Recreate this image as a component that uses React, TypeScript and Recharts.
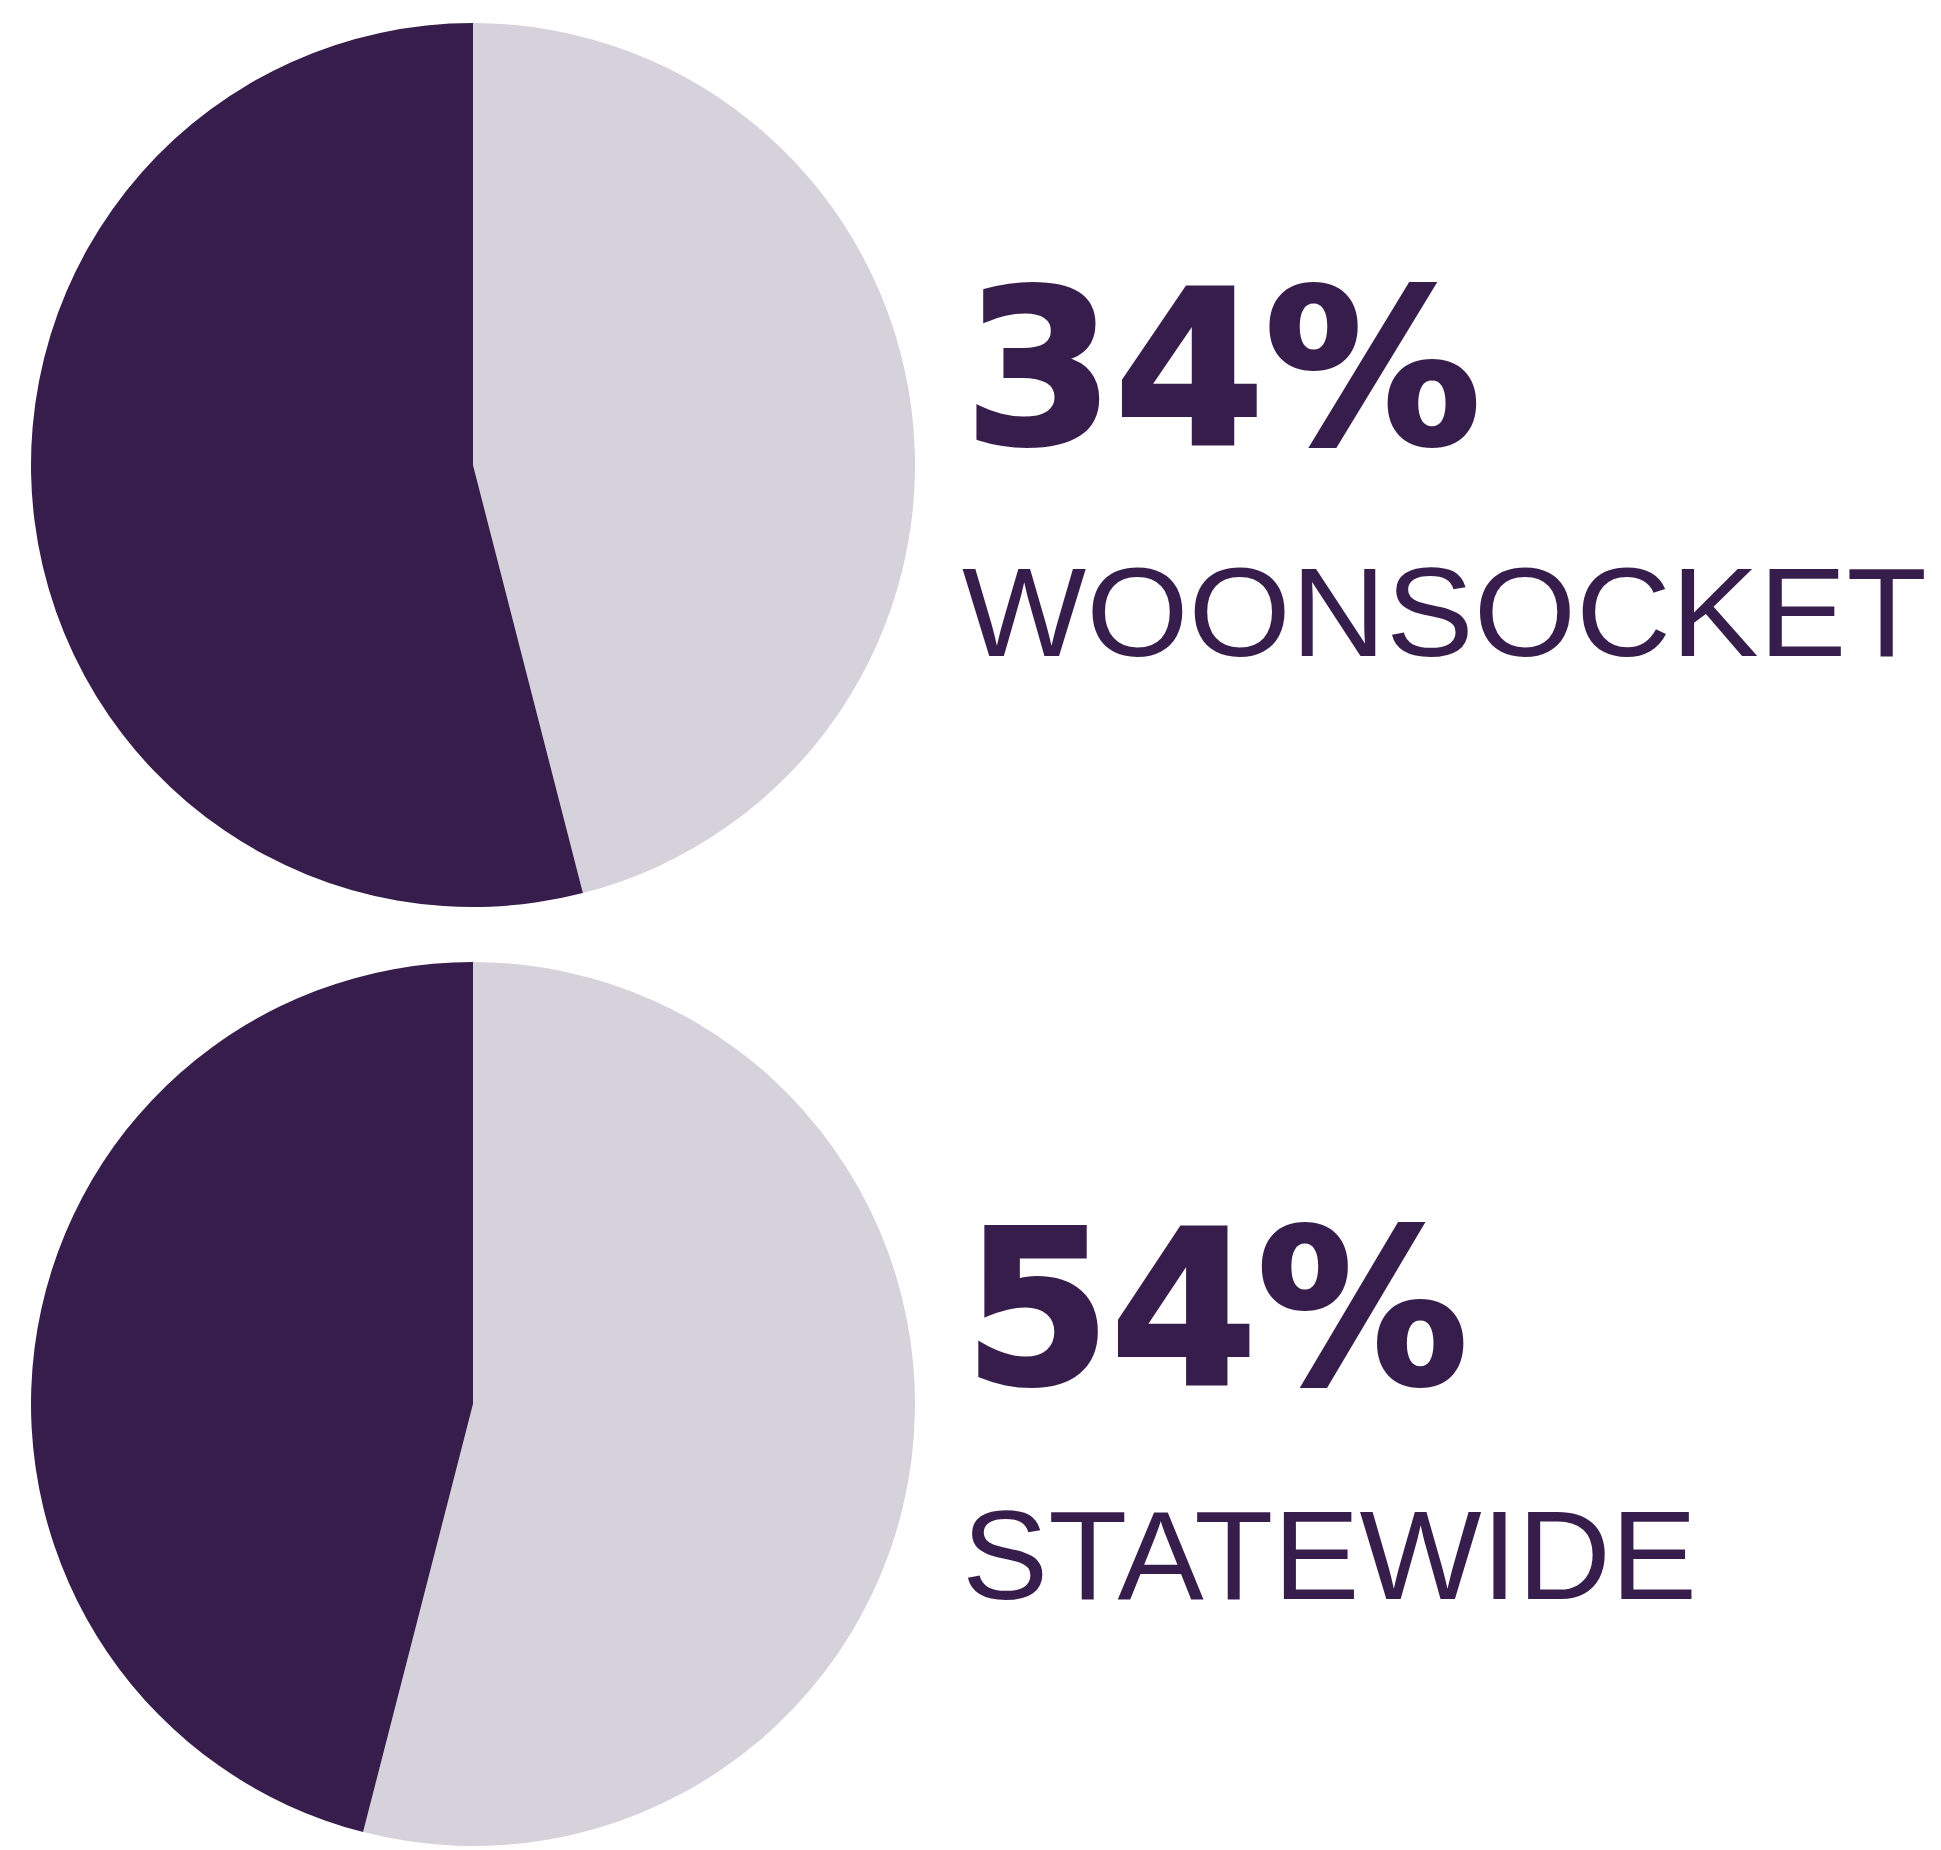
import { PieChart, Pie, Cell } from "recharts"

const DARK = "#371d4b"
const LIGHT = "#d6d2dc"

// slice values (light share first, then dark)
const regions = ["WOONSOCKET", "STATEWIDE"]
const percentLabels = ["34%", "54%"]
const lightShare = [46, 54]
const darkShare = [54, 46]

const pieData = regions.map((_, i) => [
    { name: "other", value: lightShare[i] },
    { name: "share", value: darkShare[i] },
])

const W = 1941
const H = 1850

export default function App() {
    return (
        <div style={{ position: "absolute", left: 0, top: 0, width: W, height: H, background: "#fff" }}>
            <PieChart width={W} height={H} margin={{ top: 0, right: 0, bottom: 0, left: 0 }}>
                {pieData.map((d, i) => (
                    <Pie
                        key={regions[i]}
                        data={d}
                        dataKey="value"
                        cx={473}
                        cy={i === 0 ? 465 : 1404}
                        innerRadius={0}
                        outerRadius={442}
                        startAngle={90}
                        endAngle={-270}
                        stroke="none"
                        isAnimationActive={false}
                    >
                        <Cell fill={LIGHT} />
                        <Cell fill={DARK} />
                    </Pie>
                ))}
            </PieChart>
            <svg
                width={W}
                height={H}
                style={{ position: "absolute", left: 0, top: 0, pointerEvents: "none" }}
            >
                {regions.map((r, i) => {
                    const base = i === 0 ? 0 : 940
                    return (
                        <g key={r} fill={DARK}>
                            <text
                                x={964}
                                y={443 + base}
                                fontFamily="'DejaVu Sans', sans-serif"
                                fontSize={214}
                                fontWeight={700}
                                stroke={DARK}
                                strokeWidth={4}
                                strokeLinejoin="miter"
                                textLength={i === 0 ? 517 : 504}
                                lengthAdjust="spacingAndGlyphs"
                            >
                                {percentLabels[i]}
                            </text>
                            <text
                                x={i === 0 ? 962 : 962}
                                y={i === 0 ? 656 : 1599}
                                fontFamily="'Liberation Sans', Arial, sans-serif"
                                fontSize={126}
                                textLength={i === 0 ? 965 : 735}
                                lengthAdjust="spacingAndGlyphs"
                            >
                                {r}
                            </text>
                        </g>
                    )
                })}
            </svg>
        </div>
    )
}
